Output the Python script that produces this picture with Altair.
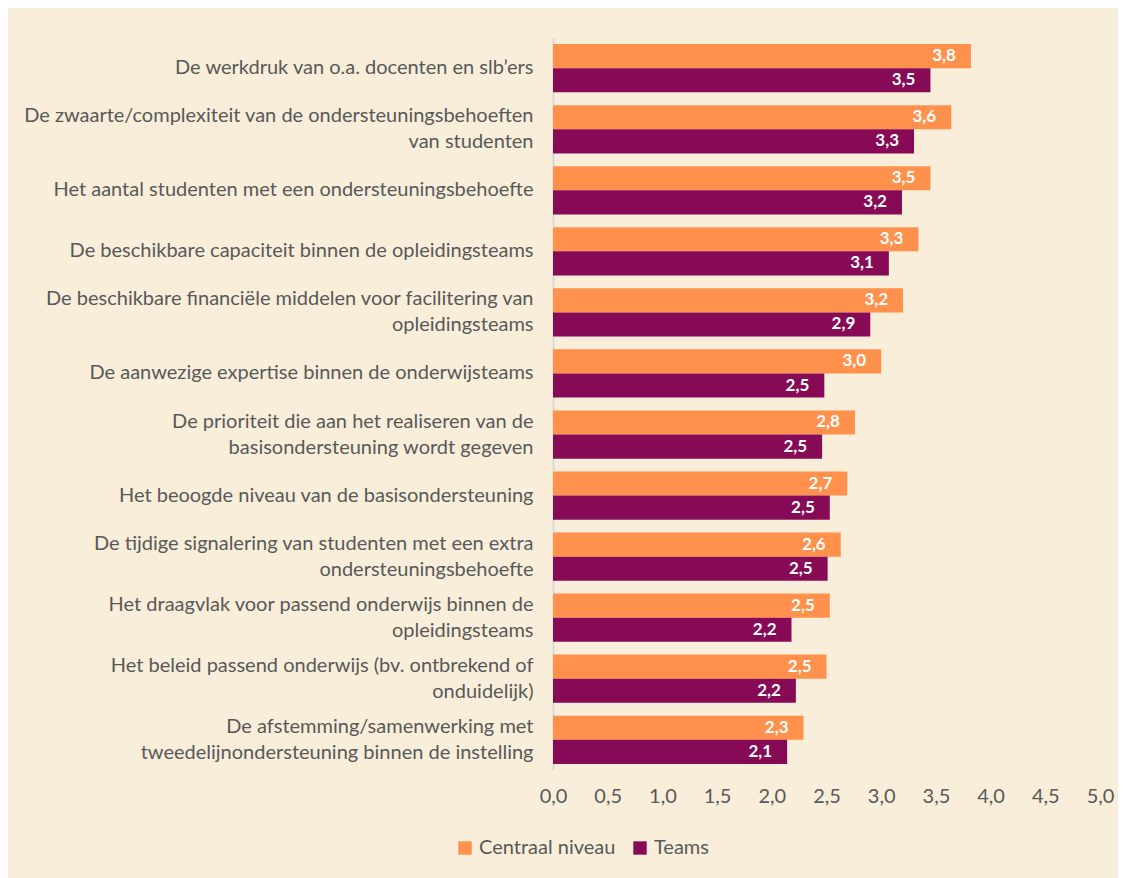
import altair as alt
import pandas as pd

categories = [
    "De werkdruk van o.a. docenten en slb\u2019ers",
    "De zwaarte/complexiteit van de ondersteuningsbehoeften|van studenten",
    "Het aantal studenten met een ondersteuningsbehoefte",
    "De beschikbare capaciteit binnen de opleidingsteams",
    "De beschikbare financi\u00eble middelen voor facilitering van|opleidingsteams",
    "De aanwezige expertise binnen de onderwijsteams",
    "De prioriteit die aan het realiseren van de|basisondersteuning wordt gegeven",
    "Het beoogde niveau van de basisondersteuning",
    "De tijdige signalering van studenten met een extra|ondersteuningsbehoefte",
    "Het draagvlak voor passend onderwijs binnen de|opleidingsteams",
    "Het beleid passend onderwijs (bv. ontbrekend of|onduidelijk)",
    "De afstemming/samenwerking met|tweedelijnondersteuning binnen de instelling",
]
centraal = [3.82, 3.64, 3.45, 3.34, 3.20, 3.00, 2.76, 2.69, 2.63, 2.53, 2.50, 2.29]
teams = [3.45, 3.30, 3.19, 3.07, 2.90, 2.48, 2.46, 2.53, 2.51, 2.18, 2.22, 2.14]
series = ["Centraal niveau", "Teams"]
colors = ["#FF914D", "#870A57"]
x_ticks = [0, 0.5, 1, 1.5, 2, 2.5, 3, 3.5, 4, 4.5, 5]

rows = []
for c, a, b in zip(categories, centraal, teams):
    rows.append({"cat": c, "series": series[0], "value": a})
    rows.append({"cat": c, "series": series[1], "value": b})
df = pd.DataFrame(rows)

FONT = "Lato"
GRAY = "#595959"

y_enc = alt.Y(
    "cat:N",
    sort=categories,
    scale=alt.Scale(paddingInner=0.21, paddingOuter=0.1),
    axis=alt.Axis(
        title=None,
        labelExpr="split(datum.label, '|')",
        labelFontSize=20,
        labelColor=GRAY,
        labelFont=FONT,
        labelLineHeight=26,
        labelPadding=20,
        labelLimit=600,
        labelOffset={"condition": {"test": "indexof(datum.label, '|') >= 0", "value": -13}, "value": 0},
        ticks=False,
        domainColor="#D9D9D9",
        domainWidth=2,
        minExtent=535,
        maxExtent=535,
    ),
)
x_enc = alt.X(
    "value:Q",
    scale=alt.Scale(domain=[0, 5], nice=False),
    axis=alt.Axis(
        title=None,
        values=x_ticks,
        labelExpr="replace(format(datum.value, '.1f'), '.', ',')",
        labelFontSize=20,
        labelColor=GRAY,
        labelFont=FONT,
        labelPadding=16,
        labelFlush=False,
        labelOverlap=False,
        ticks=False,
        domain=False,
        grid=False,
    ),
)
yoff = alt.YOffset("series:N", sort=series)

bars = alt.Chart(df).mark_bar(cornerRadius=0).encode(
    y=y_enc,
    x=x_enc,
    yOffset=yoff,
    color=alt.Color(
        "series:N",
        sort=series,
        scale=alt.Scale(domain=series, range=colors),
        legend=alt.Legend(
            title=None,
            orient="none",
            direction="horizontal",
            legendX=-98,
            legendY=800,
            symbolType="square",
            symbolSize=180,
            symbolStrokeWidth=0,
            labelFontSize=20,
            labelColor=GRAY,
            labelFont=FONT,
            columnPadding=14,
            symbolOpacity=1,
        ),
    ),
)

text = alt.Chart(df).transform_calculate(
    lbl="replace(format(datum.value, '.1f'), '.', ',')"
).mark_text(
    align="right", baseline="middle", dx=-15, color="white",
    fontWeight="bold", fontSize=17, font=FONT,
).encode(
    y=alt.Y("cat:N", sort=categories),
    x=alt.X("value:Q"),
    yOffset=yoff,
    text="lbl:N",
)

chart = (
    alt.layer(bars, text)
    .properties(
        width=547,
        height=732,
        background="#F8EED9",
        padding={"left": 10, "top": 30, "right": 4, "bottom": 20},
    )
    .configure_view(stroke=None)
)

chart.save("out.html", embed_options={"renderer": "svg", "actions": False})
